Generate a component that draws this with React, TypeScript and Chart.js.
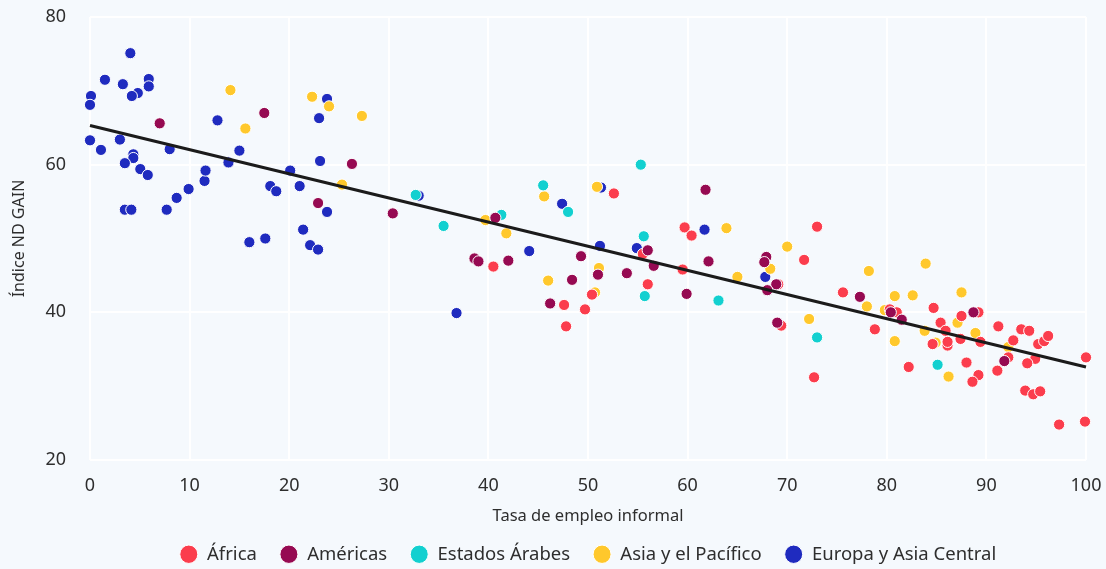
import React, { useEffect, useRef } from "react";
import { Chart, registerables } from "chart.js";

Chart.register(...registerables);

const africaX = [40.5, 47.6, 47.8, 49.7, 50.4, 52.6, 55.5, 56.0, 59.7, 60.4, 59.5, 73.0, 71.7, 69.1, 69.4, 72.7, 75.6, 78.8, 80.3, 81.0, 82.2, 84.7, 85.4, 85.9, 87.5, 84.6, 86.1, 86.1, 87.4, 89.4, 89.2, 88.0, 89.2, 88.6, 91.2, 92.7, 92.2, 91.1, 93.5, 94.3, 95.2, 95.8, 96.2, 94.9, 94.1, 93.9, 94.7, 95.4, 97.3, 99.9, 100];
const africaY = [46.2, 41.0, 38.1, 40.4, 42.4, 56.1, 47.9, 43.8, 51.5, 50.4, 45.8, 51.6, 47.1, 43.8, 38.2, 31.2, 42.7, 37.7, 40.4, 40.0, 32.6, 40.6, 38.6, 37.5, 39.5, 35.7, 35.5, 36.0, 36.4, 36.0, 40.0, 33.2, 31.5, 30.6, 38.1, 36.2, 33.9, 32.1, 37.7, 37.5, 35.7, 36.1, 36.8, 33.7, 33.1, 29.4, 28.9, 29.3, 24.8, 25.2, 33.9];

const americasX = [7.0, 17.5, 26.3, 22.9, 30.4, 38.6, 39.0, 42.0, 40.7, 46.2, 48.4, 49.3, 51.0, 53.9, 56.0, 56.6, 61.8, 59.9, 62.1, 67.9, 67.7, 68.9, 68.0, 69.0, 77.3, 80.4, 81.5, 88.7, 91.8];
const americasY = [65.6, 67.0, 60.1, 54.8, 53.4, 47.3, 46.9, 47.0, 52.8, 41.2, 44.4, 47.6, 45.1, 45.3, 48.4, 46.3, 56.6, 42.5, 46.9, 47.5, 46.8, 43.8, 43.0, 38.6, 42.1, 40.0, 39.0, 40.0, 33.4];

const arabX = [32.7, 35.5, 41.3, 45.5, 48.0, 55.3, 55.6, 55.7, 63.1, 73.0, 85.1];
const arabY = [55.9, 51.7, 53.2, 57.2, 53.6, 60.0, 50.3, 42.2, 41.6, 36.6, 32.9];

const asiaX = [14.1, 15.6, 22.3, 24.0, 27.3, 25.3, 39.7, 41.8, 45.6, 46.0, 50.7, 51.1, 50.9, 63.9, 65.0, 70.0, 68.3, 72.2, 78.2, 78.0, 80.8, 82.6, 83.9, 79.8, 80.8, 87.5, 87.1, 83.8, 88.9, 84.9, 86.2, 92.2];
const asiaY = [70.1, 64.9, 69.2, 67.9, 66.6, 57.3, 52.5, 50.7, 55.7, 44.3, 42.7, 46.0, 57.0, 51.4, 44.8, 48.9, 45.9, 39.1, 45.6, 40.8, 42.2, 42.3, 46.6, 40.3, 36.1, 42.7, 38.6, 37.5, 37.2, 35.9, 31.3, 35.3];

const europeX = [4.05, 1.5, 3.3, 5.9, 5.9, 4.8, 4.2, 0.1, 0, 0, 1.1, 3.0, 4.35, 4.35, 3.5, 5.05, 5.8, 3.5, 4.15, 7.7, 8.7, 9.9, 11.5, 11.6, 8.0, 12.8, 13.9, 15.0, 16.0, 17.6, 18.1, 18.7, 20.1, 21.05, 21.4, 22.1, 22.9, 23.8, 23.1, 23.0, 23.8, 33.0, 36.8, 44.1, 47.4, 51.3, 51.2, 54.9, 61.7, 67.8];
const europeY = [75.1, 71.5, 70.9, 71.6, 70.6, 69.7, 69.3, 69.3, 68.1, 63.3, 62.0, 63.4, 61.4, 60.9, 60.2, 59.4, 58.6, 53.9, 53.9, 53.9, 55.5, 56.7, 57.8, 59.2, 62.1, 66.0, 60.3, 61.9, 49.5, 50.0, 57.1, 56.4, 59.2, 57.1, 51.2, 49.1, 48.5, 53.6, 60.5, 66.3, 68.9, 55.8, 39.9, 48.3, 54.7, 56.9, 49.0, 48.7, 51.2, 44.8];

const trendX = [0, 100];
const trendY = [65.3, 32.6];

const seriesNames = ["África", "Américas", "Estados Árabes", "Asia y el Pacífico", "Europa y Asia Central"];
const seriesColors = ["#fb3d4d", "#960a52", "#12d0d0", "#ffc82c", "#1f2bbf"];
const seriesOrder = [2, 1, 3, 4, 5];

const xTicks = [0, 10, 20, 30, 40, 50, 60, 70, 80, 90, 100];
const yTicks = [20, 40, 60, 80];

const BG = "#f5f9fd";
const TXT = "#2e2e2e";
const FONT = "'Noto Sans', sans-serif";

function pts(xs: number[], ys: number[]) {
  return xs.map((x, i) => ({ x, y: ys[i] }));
}

export default function App() {
  const ref = useRef<HTMLCanvasElement | null>(null);

  useEffect(() => {
    document.body.style.margin = "0";
    document.body.style.background = BG;
    const canvas = ref.current;
    if (!canvas) return;
    const allX = [africaX, americasX, arabX, asiaX, europeX];
    const allY = [africaY, americasY, arabY, asiaY, europeY];
    const datasets: any[] = seriesNames.map((name, i) => ({
      type: "scatter",
      label: name,
      data: pts(allX[i], allY[i]),
      backgroundColor: seriesColors[i],
      borderColor: "#ffffff",
      borderWidth: 1,
      pointRadius: 5.6,
      pointStyle: "circle",
      order: seriesOrder[i],
      clip: false,
    }));
    datasets.push({
      type: "line",
      label: "trend",
      data: pts(trendX, trendY),
      borderColor: "#1b1b1b",
      borderWidth: 3,
      pointRadius: 0,
      fill: false,
      order: 0,
      clip: false,
    });

    const chart = new Chart(canvas, {
      type: "scatter",
      data: { datasets },
      options: {
        animation: false,
        responsive: false,
        maintainAspectRatio: false,
        font: { family: FONT } as any,
        layout: { padding: { top: 17, right: 20, bottom: 0, left: 0 } },
        plugins: {
          tooltip: { enabled: false },
          legend: {
            position: "bottom",
            fullSize: false,
            maxHeight: 47,
            labels: {
              usePointStyle: true,
              pointStyleWidth: 18,
              boxHeight: 13,
              padding: 23,
              color: TXT,
              font: { family: FONT, size: 18.5 },
              filter: (item: any) => item.datasetIndex < 5,
              sort: (a: any, b: any) => a.datasetIndex - b.datasetIndex,
            },
          },
        },
        scales: {
          x: {
            type: "linear",
            min: 0,
            max: 100,
            afterFit: (s: any) => {
              s.height = 62;
            },
            afterBuildTicks: (s: any) => {
              s.ticks = xTicks.map((v) => ({ value: v }));
            },
            ticks: {
              color: TXT,
              padding: 0,
              font: { family: FONT, size: 18 },
              maxRotation: 0,
            },
            grid: {
              color: "#ffffff",
              lineWidth: 2,
              drawTicks: true,
              tickLength: 15,
              tickColor: "rgba(0,0,0,0)",
            },
            border: { display: false },
            title: {
              display: true,
              text: "Tasa de empleo informal",
              color: TXT,
              font: { family: FONT, size: 16.5 },
              padding: { top: 0, bottom: -4 },
            },
          },
          y: {
            type: "linear",
            min: 20,
            max: 80,
            afterFit: (s: any) => {
              s.width = 90;
            },
            afterBuildTicks: (s: any) => {
              s.ticks = yTicks.map((v) => ({ value: v }));
            },
            ticks: {
              color: TXT,
              padding: 0,
              font: { family: FONT, size: 18 },
            },
            grid: {
              color: "#ffffff",
              lineWidth: 2,
              drawTicks: true,
              tickLength: 24,
              tickColor: "rgba(0,0,0,0)",
            },
            border: { display: false },
            title: {
              display: true,
              text: "Índice ND GAIN",
              color: TXT,
              font: { family: FONT, size: 16 },
              padding: { top: 10, bottom: 0 },
            },
          },
        },
      } as any,
    });
    return () => chart.destroy();
  }, []);

  return (
    <div style={{ width: 1106, height: 569, background: BG }}>
      <canvas ref={ref} width={1106} height={569} style={{ display: "block" }} />
    </div>
  );
}
